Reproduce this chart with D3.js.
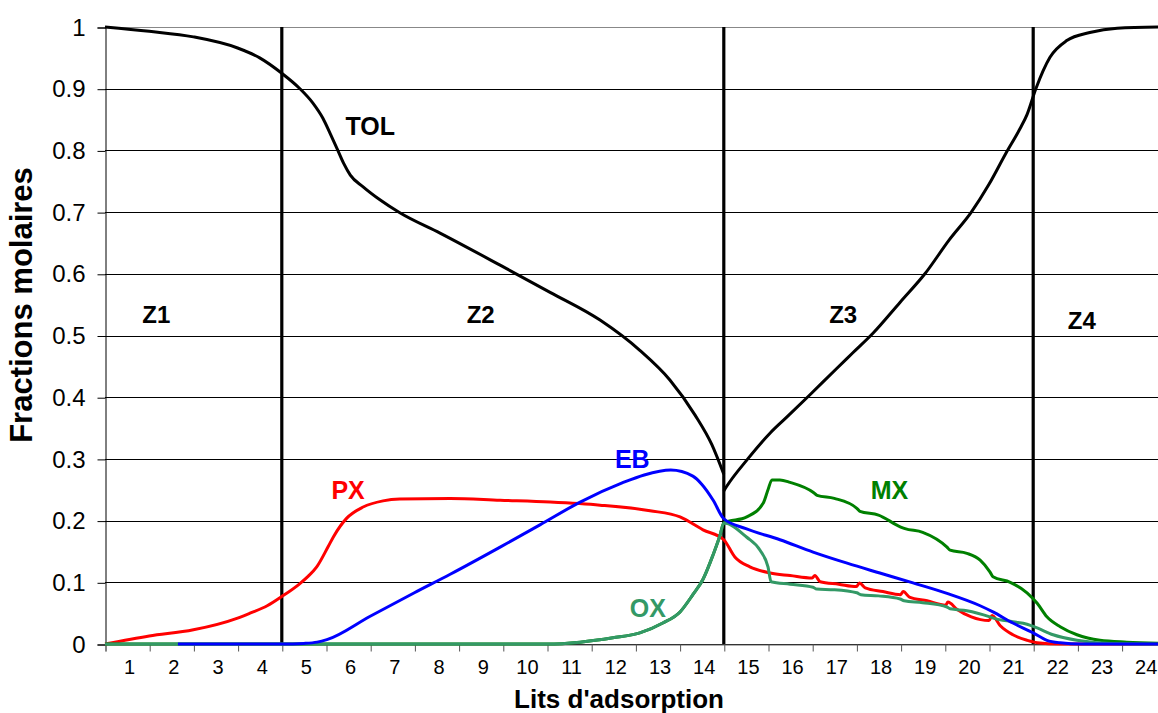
<!DOCTYPE html>
<html>
<head>
<meta charset="utf-8">
<script src="https://cdn.jsdelivr.net/npm/d3@7"></script>
<style>
  body { margin: 0; background: #fff; }
  text { font-family: "Liberation Sans", Arial, sans-serif; }
</style>
</head>
<body>
<div id="chart"></div>
<script>
const width = 1158;
const height = 713;
const marginTop = 27;
const marginLeft = 105;
const plotBottom = 644;
const bedWidth = 44.2;

// categories and ticks
const beds = d3.range(1, 25);
const bounds = d3.range(0.5, 25, 1);
const yTicks = [0, 0.1, 0.2, 0.3, 0.4, 0.5, 0.6, 0.7, 0.8, 0.9, 1];
const zoneBounds = [4.5, 14.5, 21.5];

// series: [bed position, molar fraction]
// toluene jumps at the extract point, so it is kept as two pieces
const tolZ12 = [[0.5,1.000],[1.5,0.993],[2.5,0.984],[3.5,0.966],[4.0,0.950],[4.5,0.925],[4.91,0.900],[5.2,0.877],[5.43,0.852],[5.59,0.828],[5.75,0.803],[5.9,0.779],[6.05,0.760],[6.34,0.741],[6.72,0.720],[7.17,0.699],[8.08,0.666],[9.44,0.614],[10.57,0.570],[11.7,0.525],[12.6,0.476],[13.28,0.428],[13.85,0.371],[14.23,0.323],[14.5,0.275]];
const tolZ34 = [[14.5,0.248],[14.57,0.256],[15.02,0.298],[15.55,0.342],[15.93,0.368],[16.45,0.404],[17.06,0.447],[17.42,0.472],[17.88,0.504],[18.49,0.554],[19.05,0.600],[19.6,0.655],[20.1,0.700],[20.5,0.745],[20.88,0.795],[21.2,0.835],[21.36,0.858],[21.56,0.900],[21.88,0.951],[22.26,0.978],[22.78,0.991],[23.4,0.998],[24.5,1.000]];

const px = [[0.5,0],[1.5,0.013],[2.5,0.023],[3.5,0.042],[3.78,0.050],[4.17,0.062],[4.5,0.077],[4.91,0.098],[5.1,0.110],[5.29,0.125],[5.55,0.158],[5.67,0.174],[5.97,0.204],[6.34,0.222],[6.79,0.232],[7.17,0.235],[8.31,0.236],[9.44,0.233],[10.57,0.230],[11.7,0.225],[12.83,0.216],[13.51,0.206],[14.03,0.185],[14.5,0.169],
  [14.75,0.141],[15.09,0.125],[15.55,0.115],[16.0,0.111],[16.5,0.107],[16.56,0.111],[16.68,0.101],[17.1,0.097],[17.5,0.093],[17.57,0.099],[17.7,0.091],[18.1,0.085],[18.5,0.080],[18.56,0.085],[18.7,0.076],[19.1,0.070],[19.52,0.063],[19.57,0.068],[19.78,0.056],[20.1,0.044],[20.5,0.038],[20.57,0.046],[20.75,0.030],[21.04,0.015],[21.36,0.006],[21.59,0.002],[22.1,0],[24.5,0]];

const eb = [[2.15,0],[4.5,0],[5.0,0.001],[5.3,0.003],[5.52,0.007],[6.5,0.045],[7.5,0.083],[8.31,0.113],[9.44,0.157],[10.34,0.193],[11.25,0.230],[12.2,0.261],[12.7,0.274],[13.3,0.282],[13.8,0.272],[14.0,0.259],[14.26,0.233],[14.5,0.203],
  [15.0,0.187],[15.77,0.169],[16.52,0.149],[17.29,0.131],[18.03,0.115],[18.78,0.099],[19.55,0.082],[20.3,0.062],[20.59,0.052],[21.04,0.034],[21.5,0.018],[21.81,0.006],[22.11,0.002],[22.6,0],[24.5,0]];

const ox = [[0.5,0],[10.5,0],[11.25,0.003],[11.99,0.010],[12.6,0.018],[13.12,0.034],[13.51,0.052],[13.8,0.080],[14.03,0.105],[14.26,0.145],[14.41,0.175],[14.5,0.196],
  [15.02,0.173],[15.32,0.152],[15.5,0.125],[15.57,0.101],[16.0,0.097],[16.52,0.092],[16.6,0.089],[17.0,0.088],[17.51,0.083],[17.6,0.080],[18.0,0.078],[18.49,0.073],[18.58,0.070],[19.0,0.067],[19.55,0.060],[19.62,0.057],[20.0,0.054],[20.52,0.044],[20.6,0.042],[21.04,0.036],[21.36,0.032],[21.59,0.026],[21.95,0.015],[22.49,0.006],[23.24,0.001],[24.5,0]];

const mx = [[0.5,0],[10.5,0],[11.25,0.003],[11.99,0.010],[12.6,0.018],[13.12,0.034],[13.51,0.052],[13.8,0.080],[14.03,0.105],[14.26,0.145],[14.41,0.175],[14.5,0.196],
  [15.02,0.206],[15.39,0.228],[15.5,0.250],[15.59,0.266],[15.77,0.266],[16.0,0.262],[16.52,0.246],[16.61,0.241],[17.0,0.236],[17.51,0.220],[17.58,0.215],[18.0,0.209],[18.49,0.190],[18.6,0.187],[19.0,0.181],[19.55,0.157],[19.62,0.152],[20.0,0.147],[20.3,0.136],[20.52,0.117],[20.59,0.109],[20.98,0.100],[21.36,0.083],[21.59,0.066],[21.81,0.044],[22.11,0.028],[22.49,0.015],[23.01,0.006],[23.62,0.003],[24.5,0.001]];

// labels placed on the plot
const zoneLabels = [{ text: "Z1", x: 1.66, y: 0.52 }, { text: "Z2", x: 9.0, y: 0.52 }, { text: "Z3", x: 17.2, y: 0.52 }, { text: "Z4", x: 22.6, y: 0.51 }];
const seriesLabels = [
  { text: "TOL", x: 6.5, y: 0.825, color: "#000000" },
  { text: "PX", x: 6.0, y: 0.235, color: "#ff0000" },
  { text: "EB", x: 12.43, y: 0.286, color: "#0000ff" },
  { text: "OX", x: 12.78, y: 0.043, color: "#339966" },
  { text: "MX", x: 18.25, y: 0.235, color: "#008000" }
];

const x = d3.scaleLinear()
    .domain([0.5, 24.5])
    .range([marginLeft, marginLeft + 24 * bedWidth]);
const y = d3.scaleLinear()
    .domain([0, 1])
    .range([plotBottom, marginTop]);

const svg = d3.select("#chart")
  .append("svg")
    .attr("width", width)
    .attr("height", height)
    .style("background", "#fff");

// horizontal gridlines
svg.append("g")
    .selectAll("line")
    .data(yTicks)
    .join("line")
      .attr("x1", x(0.5))
      .attr("x2", x(24.5))
      .attr("y1", d => Math.round(y(d)) + 0.5)
      .attr("y2", d => Math.round(y(d)) + 0.5)
      .attr("stroke", d => d === 1 ? "#888" : "#000")
      .attr("stroke-width", 1);

// y axis
const yAxis = svg.append("g")
    .attr("transform", `translate(${marginLeft + 0.5},0.5)`)
    .call(d3.axisLeft(y)
        .tickValues(yTicks)
        .tickSize(8)
        .tickPadding(12)
        .tickFormat(d => String(d)));
yAxis.selectAll("text").attr("font-size", 24).attr("fill", "#000").attr("font-family", "Liberation Sans, Arial");
yAxis.selectAll("line").attr("stroke", "#000");
yAxis.select(".domain").attr("stroke", "#000");

// x axis: boundaries carry tick marks, labels sit in the middle of each bed
const xAxis = svg.append("g")
    .attr("transform", `translate(0.5,${plotBottom + 0.5})`)
    .call(d3.axisBottom(x)
        .tickValues(bounds)
        .tickSize(7)
        .tickFormat(""));
xAxis.selectAll("line").attr("stroke", "#555");
xAxis.select(".domain").attr("stroke", "#666");

const xLabels = svg.append("g")
    .attr("transform", `translate(2,${plotBottom})`)
    .call(d3.axisBottom(x)
        .tickValues(beds)
        .tickSize(0)
        .tickPadding(16)
        .tickFormat(d3.format("d")));
xLabels.select(".domain").remove();
xLabels.selectAll("text").attr("font-size", 20).attr("fill", "#000").attr("font-family", "Liberation Sans, Arial");

// zone separators
svg.append("g")
    .selectAll("line")
    .data(zoneBounds)
    .join("line")
      .attr("x1", d => x(d))
      .attr("x2", d => x(d))
      .attr("y1", y(1))
      .attr("y2", y(0))
      .attr("stroke", "#000")
      .attr("stroke-width", 3.2);

const line = d3.line()
    .x(d => x(d[0]))
    .y(d => y(d[1]))
    .curve(d3.curveMonotoneX);

const series = [
  { data: tolZ12, color: "#000000" },
  { data: tolZ34, color: "#000000" },
  { data: px, color: "#ff0000" },
  { data: mx, color: "#008000" },
  { data: ox, color: "#339966" },
  { data: eb, color: "#0000ff" }
];

svg.append("g")
    .selectAll("path")
    .data(series)
    .join("path")
      .attr("fill", "none")
      .attr("stroke", d => d.color)
      .attr("stroke-width", 3)
      .attr("stroke-linejoin", "round")
      .attr("d", d => line(d.data));

// zone labels
svg.append("g")
    .selectAll("text")
    .data(zoneLabels)
    .join("text")
      .attr("x", d => x(d.x))
      .attr("y", d => y(d.y))
      .attr("text-anchor", "middle")
      .attr("font-size", 24)
      .attr("font-weight", "bold")
      .text(d => d.text);

// series labels
svg.append("g")
    .selectAll("text")
    .data(seriesLabels)
    .join("text")
      .attr("x", d => x(d.x))
      .attr("y", d => y(d.y))
      .attr("text-anchor", "middle")
      .attr("font-size", 25)
      .attr("font-weight", "bold")
      .attr("fill", d => d.color)
      .text(d => d.text);

// axis titles
svg.append("text")
    .attr("x", 619)
    .attr("y", 708)
    .attr("text-anchor", "middle")
    .attr("font-size", 26)
    .attr("font-weight", "bold")
    .text("Lits d'adsorption");

svg.append("text")
    .attr("transform", `translate(32,305) rotate(-90)`)
    .attr("text-anchor", "middle")
    .attr("font-size", 31)
    .attr("font-weight", "bold")
    .text("Fractions molaires");
</script>
</body>
</html>
